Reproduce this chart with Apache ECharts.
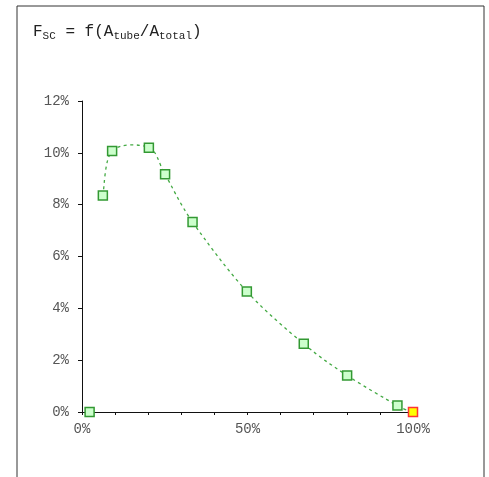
<!DOCTYPE html>
<html>
<head>
<meta charset="utf-8">
<script src="https://cdn.jsdelivr.net/npm/echarts@6/dist/echarts.min.js"></script>
<style>
  html, body { margin: 0; padding: 0; background: #fff; }
  #main { width: 489px; height: 477px; }
</style>
</head>
<body>
<div id="main"></div>
<script>
// area ratio A_tube/A_total (%) and F_SC (%)
var ratio = [6.3, 9.1, 20.2, 25.1, 33.4, 49.8, 67.0, 80.1, 95.3, 100];
var fsc = [8.35, 10.07, 10.2, 9.17, 7.33, 4.65, 2.63, 1.41, 0.25, 0];
var loosePoint = [2.3, 0];
var xTicks = [0, 50, 100];
var yTicks = [0, 2, 4, 6, 8, 10, 12];

var mono = "'Courier New', 'Liberation Mono', monospace";
var myChart = echarts.init(document.getElementById('main'));

var points = ratio.map(function (x, i) { return [x, fsc[i]]; });
var markers = points.map(function (p, i) {
    var item = { value: p };
    if (i === points.length - 1) {
        item.itemStyle = { color: '#ffff00', borderColor: '#ff3333' };
    }
    return item;
});
markers.push({ value: loosePoint });

// one bezier segment per pair of neighbouring points (catmull-rom style)
function renderSegment(params, api) {
    var i = params.dataIndexInside;
    var n = params.dataInsideLength;
    if (i >= n - 1) return null;
    function pt(k) {
        k = Math.max(0, Math.min(n - 1, k));
        return api.coord([api.value(0, k), api.value(1, k)]);
    }
    var p0 = pt(i - 1), p1 = pt(i), p2 = pt(i + 1), p3 = pt(i + 2);
    return {
        type: 'bezierCurve',
        shape: {
            x1: p1[0], y1: p1[1], x2: p2[0], y2: p2[1],
            cpx1: p1[0] + (p2[0] - p0[0]) / 6, cpy1: p1[1] + (p2[1] - p0[1]) / 6,
            cpx2: p2[0] - (p3[0] - p1[0]) / 6, cpy2: p2[1] - (p3[1] - p1[1]) / 6
        },
        style: { fill: 'none', stroke: '#44aa44', lineWidth: 1.3, lineDash: [3, 3.5] },
        silent: true
    };
}

var option = {
    animation: false,
    backgroundColor: '#fff',
    graphic: [{
        type: 'rect',
        shape: { x: 17, y: 6, width: 467, height: 480 },
        style: { fill: 'none', stroke: '#333', lineWidth: 1 },
        z: 0
    }],
    title: {
        text: '{n|F}{s|SC}{n| = f(A}{s|tube}{n|/A}{s|total}{n|)}',
        left: 28,
        top: 17,
        textStyle: {
            fontWeight: 'normal',
            rich: {
                n: { fontFamily: mono, fontSize: 16, color: '#222', fontWeight: 'normal' },
                s: { fontFamily: mono, fontSize: 11, color: '#222', fontWeight: 'normal', padding: [9, 0, 0, 0] }
            }
        }
    },
    grid: { left: 82, right: 76, top: 101, bottom: 65 },
    xAxis: {
        type: 'value',
        min: 0,
        max: 100,
        interval: 50,
        splitLine: { show: false },
        axisLine: { lineStyle: { color: '#111' } },
        axisTick: { length: 3, lineStyle: { color: '#111' } },
        minorTick: { show: true, splitNumber: 5, length: 3, lineStyle: { color: '#111' } },
        axisLabel: {
            color: '#555', fontFamily: mono, fontSize: 14, margin: 10,
            formatter: function (v) { return xTicks.indexOf(v) >= 0 ? v + '%' : ''; }
        }
    },
    yAxis: {
        type: 'value',
        min: 0,
        max: 12,
        interval: 2,
        splitLine: { show: false },
        axisLine: { show: true, lineStyle: { color: '#111' } },
        axisTick: { show: true, length: 4, lineStyle: { color: '#111' } },
        axisLabel: {
            color: '#555', fontFamily: mono, fontSize: 14, margin: 13,
            formatter: function (v) { return yTicks.indexOf(v) >= 0 ? v + '%' : ''; }
        }
    },
    series: [
        {
            type: 'custom',
            data: points,
            renderItem: renderSegment,
            clip: false,
            z: 2
        },
        {
            type: 'scatter',
            data: markers,
            symbol: 'rect',
            symbolSize: 9,
            itemStyle: { color: '#ccffcc', borderColor: '#339933', borderWidth: 1.5, opacity: 1 },
            z: 4
        }
    ]
};
myChart.setOption(option);
</script>
</body>
</html>
